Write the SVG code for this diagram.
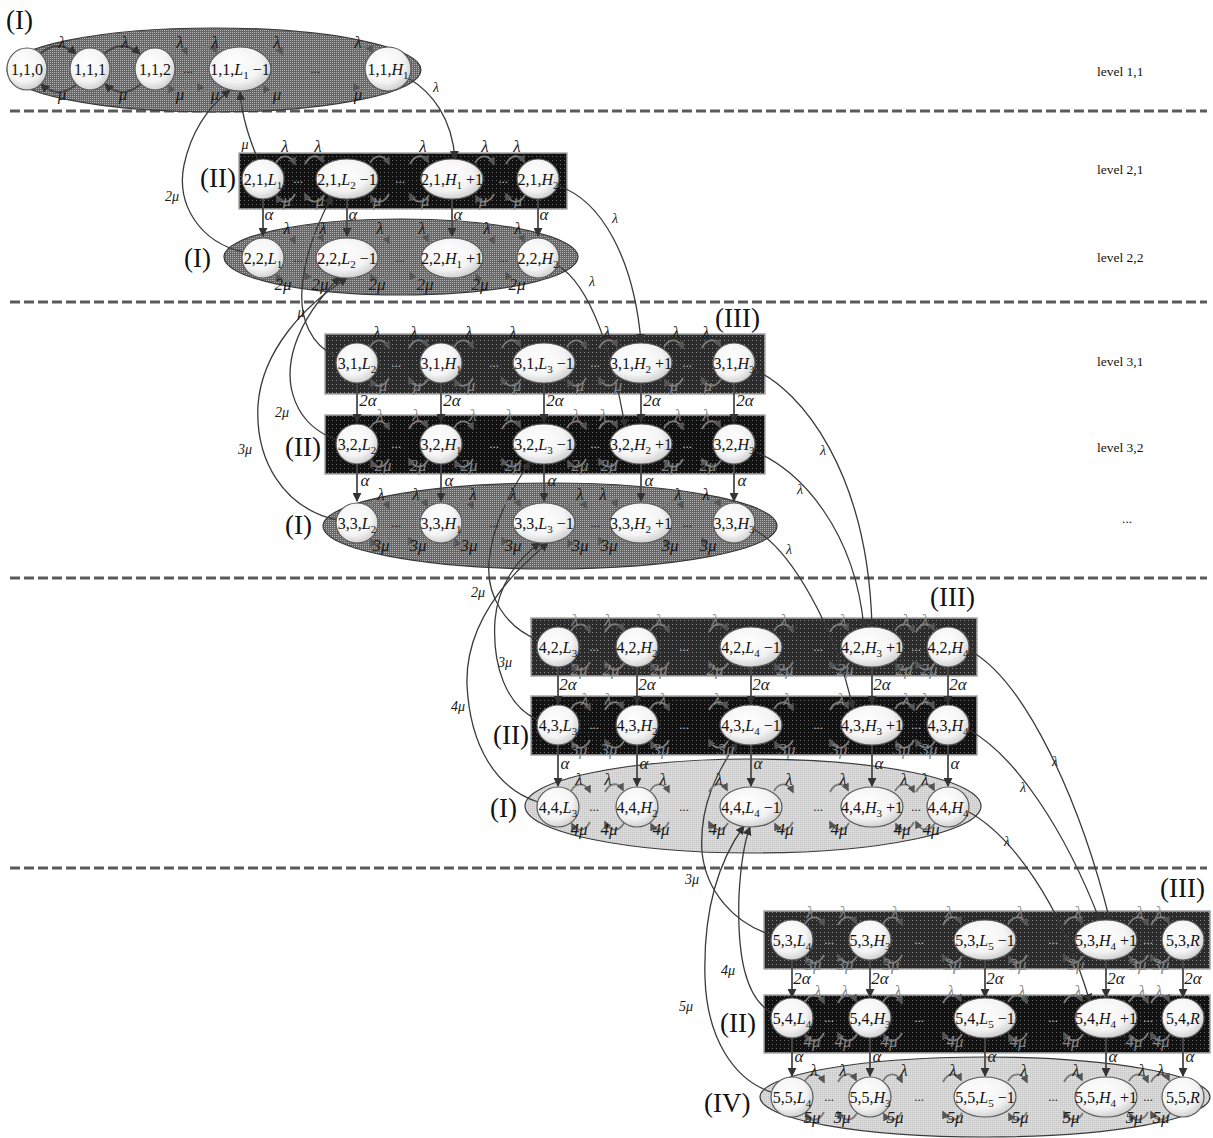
<svg xmlns="http://www.w3.org/2000/svg" width="1213" height="1138" viewBox="0 0 1213 1138">
<style>
.n{fill:url(#ng);stroke:#5a5a5a;stroke-width:1.2}
.t{font-family:"Liberation Serif","Times New Roman",serif;font-size:16px;text-anchor:middle;fill:#111}
.i{font-style:italic}
.s{font-size:11px}
.g{font-family:"Liberation Serif","Times New Roman",serif;font-size:17px;font-style:italic;text-anchor:middle;fill:#1a1a1a}
.gw{font-family:"Liberation Serif","Times New Roman",serif;font-size:17px;font-style:italic;text-anchor:middle;fill:#858585}
.cl{font-family:"Liberation Serif","Times New Roman",serif;font-size:14px;font-style:italic;text-anchor:middle;fill:#1a1a1a}
.r{font-family:"Liberation Serif","Times New Roman",serif;font-size:27px;fill:#111}
.lv{font-family:"Liberation Serif","Times New Roman",serif;font-size:13.5px;fill:#111}
.d{font-family:"Liberation Serif","Times New Roman",serif;font-size:13px;text-anchor:middle;fill:#222}
.dw{font-family:"Liberation Serif","Times New Roman",serif;font-size:13px;text-anchor:middle;fill:#bbb}
.c{fill:none;stroke:#3a3a3a;stroke-width:1.3;marker-end:url(#ah)}
.a{stroke:#4a4a4a;stroke-width:1.8;marker-end:url(#ah)}
.k{fill:none;stroke:#444;stroke-width:1.8;marker-end:url(#ah)}
.h{fill:none;stroke:#7a7a7a;stroke-width:1.8;marker-end:url(#hh)}
.dash{stroke:#5a5a5a;stroke-width:3;stroke-dasharray:10 4;fill:none}
.cont{stroke:#3a3a3a;stroke-width:1.2}
.box{stroke:#a8a8a8;stroke-width:1.5}
</style>
<defs>
<radialGradient id="ng" cx="0.42" cy="0.38" r="0.7"><stop offset="0" stop-color="#ffffff"/><stop offset="0.6" stop-color="#f4f4f4"/><stop offset="1" stop-color="#c4c4c4"/></radialGradient>
<pattern id="pd" width="2" height="2" patternUnits="userSpaceOnUse"><rect width="2" height="2" fill="#666"/><rect width="1" height="1" fill="#b4b4b4"/></pattern>
<pattern id="pb1" width="4" height="4" patternUnits="userSpaceOnUse"><rect width="4" height="4" fill="#2c2c2c"/><rect width="1" height="1" fill="#8a8a8a"/></pattern>
<pattern id="pb2" width="4" height="4" patternUnits="userSpaceOnUse"><rect width="4" height="4" fill="#121212"/><rect width="1" height="1" fill="#6a6a6a"/></pattern>
<pattern id="pl" width="2" height="2" patternUnits="userSpaceOnUse"><rect width="2" height="2" fill="#dadada"/><rect width="1" height="1" fill="#c2c2c2"/></pattern>
<marker id="ah" viewBox="0 0 10 10" refX="9" refY="5" markerWidth="9" markerHeight="9" markerUnits="userSpaceOnUse" orient="auto"><path d="M0 0L10 5L0 10z" fill="#333"/></marker>
<marker id="hh" viewBox="0 0 10 10" refX="8" refY="5" markerWidth="8" markerHeight="8" markerUnits="userSpaceOnUse" orient="auto"><path d="M0 0L10 5L0 10z" fill="#555"/></marker>
<g id="hR"><path class="h" d="M-8 -16C-3 -25 6 -25 11 -15"/><path class="h" d="M11 15C6 25 -3 25 -7 17"/></g>
<g id="hL"><path class="h" d="M-11 -15C-6 -25 3 -25 7 -17"/><path class="h" d="M8 16C3 25 -6 25 -11 15"/></g>
</defs>
<rect width="1213" height="1138" fill="#fff"/>

<g id="separators">
<line class="dash" x1="10" y1="111" x2="1207" y2="111"/>
<line class="dash" x1="10" y1="302" x2="1207" y2="302"/>
<line class="dash" x1="10" y1="578" x2="1207" y2="578"/>
<line class="dash" x1="10" y1="868" x2="1207" y2="868"/>
</g>

<g id="containers">
<ellipse class="cont" cx="214" cy="70" rx="207" ry="42" fill="url(#pd)"/>
<rect class="box" x="239" y="153" width="328" height="56" fill="url(#pb2)"/>
<ellipse class="cont" cx="401" cy="257" rx="177" ry="38" fill="url(#pd)"/>
<rect class="box" x="325" y="334" width="440" height="60" fill="url(#pb1)"/>
<rect class="box" x="325" y="415" width="440" height="59" fill="url(#pb2)"/>
<ellipse class="cont" cx="550" cy="526" rx="227" ry="43" fill="url(#pd)"/>
<rect class="box" x="531" y="618" width="446" height="58" fill="url(#pb1)"/>
<rect class="box" x="531" y="696" width="446" height="59" fill="url(#pb2)"/>
<ellipse class="cont" cx="753" cy="806" rx="228" ry="47" fill="url(#pl)"/>
<rect class="box" x="764" y="911" width="446" height="58" fill="url(#pb1)"/>
<rect class="box" x="764" y="995" width="446" height="58" fill="url(#pb2)"/>
<ellipse class="cont" cx="985" cy="1097" rx="225" ry="40" fill="url(#pl)"/>
</g>

<g id="connectors">
<path class="c" d="M258 160C250 140 242 118 240 92"/>
<path class="c" d="M243 252C200 242 176 205 184 165C192 128 212 104 230 90"/>
<path class="c" d="M408 78C432 92 452 118 455 159"/>
<path class="c" d="M558 186C602 200 634 260 641 342"/>
<path class="c" d="M557 265C592 285 614 360 625 427"/>
<path class="c" d="M337 357C310 345 300 318 302 290C304 255 318 222 332 196"/>
<path class="c" d="M337 440C295 425 282 385 295 345C305 315 325 292 340 277"/>
<path class="c" d="M337 520C283 508 255 460 258 405C262 350 305 305 347 278"/>
<path class="c" d="M755 370C800 390 868 470 872 627"/>
<path class="c" d="M756 452C800 470 855 530 864 628"/>
<path class="c" d="M755 530C790 550 835 625 853 709"/>
<path class="c" d="M538 640C505 627 486 595 489 562C492 525 512 488 530 462"/>
<path class="c" d="M538 720C506 706 492 665 495 620C498 585 518 558 540 543"/>
<path class="c" d="M538 802C495 788 470 745 467 685C465 625 505 578 548 543"/>
<path class="c" d="M969 650C1025 680 1080 800 1110 921"/>
<path class="c" d="M969 730C1015 755 1065 830 1100 921"/>
<path class="c" d="M969 812C1010 835 1060 900 1090 1002"/>
<path class="c" d="M772 935C735 924 706 892 702 852C699 805 718 770 737 743"/>
<path class="c" d="M772 1013C745 998 737 955 739 895C741 860 745 840 750 827"/>
<path class="c" d="M771 1092C735 1080 707 1040 705 978C703 910 718 862 744 826"/>
<path class="k" d="M40 54Q58 38 76 54"/>
<path class="k" d="M77 84Q58 100 41 84"/>
<path class="k" d="M104 54Q122 38 140 54"/>
<path class="k" d="M141 84Q122 100 105 84"/>
<line class="a" x1="263" y1="199" x2="263" y2="236"/><line class="a" x1="347" y1="199" x2="347" y2="236"/><line class="a" x1="452" y1="199" x2="452" y2="236"/><line class="a" x1="538" y1="199" x2="538" y2="236"/>
<line class="a" x1="357" y1="383" x2="357" y2="422"/><line class="a" x1="441" y1="383" x2="441" y2="422"/><line class="a" x1="544" y1="383" x2="544" y2="422"/><line class="a" x1="641" y1="383" x2="641" y2="422"/><line class="a" x1="734" y1="383" x2="734" y2="422"/>
<line class="a" x1="357" y1="464" x2="357" y2="501"/><line class="a" x1="441" y1="464" x2="441" y2="501"/><line class="a" x1="544" y1="464" x2="544" y2="501"/><line class="a" x1="641" y1="464" x2="641" y2="501"/><line class="a" x1="734" y1="464" x2="734" y2="501"/>
<line class="a" x1="558" y1="667" x2="558" y2="704"/><line class="a" x1="637" y1="667" x2="637" y2="704"/><line class="a" x1="751" y1="667" x2="751" y2="704"/><line class="a" x1="872" y1="667" x2="872" y2="704"/><line class="a" x1="948" y1="667" x2="948" y2="704"/>
<line class="a" x1="558" y1="745" x2="558" y2="786"/><line class="a" x1="637" y1="745" x2="637" y2="786"/><line class="a" x1="751" y1="745" x2="751" y2="786"/><line class="a" x1="872" y1="745" x2="872" y2="786"/><line class="a" x1="948" y1="745" x2="948" y2="786"/>
<line class="a" x1="792" y1="960" x2="792" y2="997"/><line class="a" x1="870" y1="960" x2="870" y2="997"/><line class="a" x1="985" y1="960" x2="985" y2="997"/><line class="a" x1="1106" y1="960" x2="1106" y2="997"/><line class="a" x1="1183" y1="960" x2="1183" y2="997"/>
<line class="a" x1="792" y1="1038" x2="792" y2="1076"/><line class="a" x1="870" y1="1038" x2="870" y2="1076"/><line class="a" x1="985" y1="1038" x2="985" y2="1076"/><line class="a" x1="1106" y1="1038" x2="1106" y2="1076"/><line class="a" x1="1183" y1="1038" x2="1183" y2="1076"/>
<use href="#hR" x="176" y="69"/><use href="#hL" x="209" y="69"/><use href="#hR" x="271" y="69"/><use href="#hL" x="365" y="69"/>
<use href="#hR" x="284" y="179"/><use href="#hR" x="378" y="179"/><use href="#hR" x="483" y="179"/><use href="#hL" x="316" y="179"/><use href="#hL" x="421" y="179"/><use href="#hL" x="517" y="179"/>
<use href="#hR" x="284" y="258"/><use href="#hR" x="378" y="258"/><use href="#hR" x="483" y="258"/><use href="#hL" x="316" y="258"/><use href="#hL" x="421" y="258"/><use href="#hL" x="517" y="258"/>
<use href="#hR" x="378" y="363"/><use href="#hR" x="462" y="363"/><use href="#hR" x="575" y="363"/><use href="#hR" x="672" y="363"/><use href="#hL" x="420" y="363"/><use href="#hL" x="513" y="363"/><use href="#hL" x="610" y="363"/><use href="#hL" x="713" y="363"/>
<use href="#hR" x="378" y="444"/><use href="#hR" x="462" y="444"/><use href="#hR" x="575" y="444"/><use href="#hR" x="672" y="444"/><use href="#hL" x="420" y="444"/><use href="#hL" x="513" y="444"/><use href="#hL" x="610" y="444"/><use href="#hL" x="713" y="444"/>
<use href="#hR" x="378" y="523"/><use href="#hR" x="462" y="523"/><use href="#hR" x="575" y="523"/><use href="#hR" x="672" y="523"/><use href="#hL" x="420" y="523"/><use href="#hL" x="513" y="523"/><use href="#hL" x="610" y="523"/><use href="#hL" x="713" y="523"/>
<use href="#hR" x="579" y="647"/><use href="#hR" x="658" y="647"/><use href="#hR" x="782" y="647"/><use href="#hR" x="903" y="647"/><use href="#hL" x="616" y="647"/><use href="#hL" x="720" y="647"/><use href="#hL" x="841" y="647"/><use href="#hL" x="927" y="647"/>
<use href="#hR" x="579" y="725"/><use href="#hR" x="658" y="725"/><use href="#hR" x="782" y="725"/><use href="#hR" x="903" y="725"/><use href="#hL" x="616" y="725"/><use href="#hL" x="720" y="725"/><use href="#hL" x="841" y="725"/><use href="#hL" x="927" y="725"/>
<use href="#hR" x="579" y="807"/><use href="#hR" x="658" y="807"/><use href="#hR" x="782" y="807"/><use href="#hR" x="903" y="807"/><use href="#hL" x="616" y="807"/><use href="#hL" x="720" y="807"/><use href="#hL" x="841" y="807"/><use href="#hL" x="927" y="807"/>
<use href="#hR" x="813" y="940"/><use href="#hR" x="891" y="940"/><use href="#hR" x="1016" y="940"/><use href="#hR" x="1137" y="940"/><use href="#hL" x="849" y="940"/><use href="#hL" x="954" y="940"/><use href="#hL" x="1075" y="940"/><use href="#hL" x="1162" y="940"/>
<use href="#hR" x="813" y="1018"/><use href="#hR" x="891" y="1018"/><use href="#hR" x="1016" y="1018"/><use href="#hR" x="1137" y="1018"/><use href="#hL" x="849" y="1018"/><use href="#hL" x="954" y="1018"/><use href="#hL" x="1075" y="1018"/><use href="#hL" x="1162" y="1018"/>
<use href="#hR" x="813" y="1097"/><use href="#hR" x="891" y="1097"/><use href="#hR" x="1016" y="1097"/><use href="#hR" x="1137" y="1097"/><use href="#hL" x="849" y="1097"/><use href="#hL" x="954" y="1097"/><use href="#hL" x="1075" y="1097"/><use href="#hL" x="1162" y="1097"/>
</g>

<g id="nodes">
<g id="n1-1-0"><ellipse class="n" cx="27" cy="69" rx="20" ry="21"/><text class="t" x="27" y="75">1,1,0</text></g>
<g id="n1-1-1"><ellipse class="n" cx="90" cy="69" rx="20" ry="21"/><text class="t" x="90" y="75">1,1,1</text></g>
<g id="n1-1-2"><ellipse class="n" cx="155" cy="69" rx="20" ry="21"/><text class="t" x="155" y="75">1,1,2</text></g>
<g id="n1-1-L1m1"><ellipse class="n" cx="240" cy="69" rx="31" ry="22"/><text class="t" x="240" y="75">1,1,<tspan class="i">L</tspan><tspan class="s" dy="4">1</tspan><tspan dy="-4"> −1</tspan></text></g>
<g id="n1-1-H1"><ellipse class="n" cx="388" cy="69" rx="23" ry="22"/><text class="t" x="388" y="75">1,1,<tspan class="i">H</tspan><tspan class="s" dy="4">1</tspan></text></g>

<g id="n2-1-L1"><ellipse class="n" cx="263" cy="179" rx="21" ry="20"/><text class="t" x="263" y="185">2,1,<tspan class="i">L</tspan><tspan class="s" dy="4">1</tspan></text></g>
<g id="n2-1-L2m1"><ellipse class="n" cx="347" cy="179" rx="31" ry="20"/><text class="t" x="347" y="185">2,1,<tspan class="i">L</tspan><tspan class="s" dy="4">2</tspan><tspan dy="-4"> −1</tspan></text></g>
<g id="n2-1-H1p1"><ellipse class="n" cx="452" cy="179" rx="31" ry="20"/><text class="t" x="452" y="185">2,1,<tspan class="i">H</tspan><tspan class="s" dy="4">1</tspan><tspan dy="-4"> +1</tspan></text></g>
<g id="n2-1-H2"><ellipse class="n" cx="538" cy="179" rx="21" ry="20"/><text class="t" x="538" y="185">2,1,<tspan class="i">H</tspan><tspan class="s" dy="4">2</tspan></text></g>
<g id="n2-2-L1"><ellipse class="n" cx="263" cy="258" rx="21" ry="20"/><text class="t" x="263" y="264">2,2,<tspan class="i">L</tspan><tspan class="s" dy="4">1</tspan></text></g>
<g id="n2-2-L2m1"><ellipse class="n" cx="347" cy="258" rx="31" ry="20"/><text class="t" x="347" y="264">2,2,<tspan class="i">L</tspan><tspan class="s" dy="4">2</tspan><tspan dy="-4"> −1</tspan></text></g>
<g id="n2-2-H1p1"><ellipse class="n" cx="452" cy="258" rx="31" ry="20"/><text class="t" x="452" y="264">2,2,<tspan class="i">H</tspan><tspan class="s" dy="4">1</tspan><tspan dy="-4"> +1</tspan></text></g>
<g id="n2-2-H2"><ellipse class="n" cx="538" cy="258" rx="21" ry="20"/><text class="t" x="538" y="264">2,2,<tspan class="i">H</tspan><tspan class="s" dy="4">2</tspan></text></g>

<g id="n3-1-L2"><ellipse class="n" cx="357" cy="363" rx="21" ry="20"/><text class="t" x="357" y="369">3,1,<tspan class="i">L</tspan><tspan class="s" dy="4">2</tspan></text></g>
<g id="n3-1-H1"><ellipse class="n" cx="441" cy="363" rx="21" ry="20"/><text class="t" x="441" y="369">3,1,<tspan class="i">H</tspan><tspan class="s" dy="4">1</tspan></text></g>
<g id="n3-1-L3m1"><ellipse class="n" cx="544" cy="363" rx="31" ry="20"/><text class="t" x="544" y="369">3,1,<tspan class="i">L</tspan><tspan class="s" dy="4">3</tspan><tspan dy="-4"> −1</tspan></text></g>
<g id="n3-1-H2p1"><ellipse class="n" cx="641" cy="363" rx="31" ry="20"/><text class="t" x="641" y="369">3,1,<tspan class="i">H</tspan><tspan class="s" dy="4">2</tspan><tspan dy="-4"> +1</tspan></text></g>
<g id="n3-1-H3"><ellipse class="n" cx="734" cy="363" rx="21" ry="20"/><text class="t" x="734" y="369">3,1,<tspan class="i">H</tspan><tspan class="s" dy="4">3</tspan></text></g>
<g id="n3-2-L2"><ellipse class="n" cx="357" cy="444" rx="21" ry="20"/><text class="t" x="357" y="450">3,2,<tspan class="i">L</tspan><tspan class="s" dy="4">2</tspan></text></g>
<g id="n3-2-H1"><ellipse class="n" cx="441" cy="444" rx="21" ry="20"/><text class="t" x="441" y="450">3,2,<tspan class="i">H</tspan><tspan class="s" dy="4">1</tspan></text></g>
<g id="n3-2-L3m1"><ellipse class="n" cx="544" cy="444" rx="31" ry="20"/><text class="t" x="544" y="450">3,2,<tspan class="i">L</tspan><tspan class="s" dy="4">3</tspan><tspan dy="-4"> −1</tspan></text></g>
<g id="n3-2-H2p1"><ellipse class="n" cx="641" cy="444" rx="31" ry="20"/><text class="t" x="641" y="450">3,2,<tspan class="i">H</tspan><tspan class="s" dy="4">2</tspan><tspan dy="-4"> +1</tspan></text></g>
<g id="n3-2-H3"><ellipse class="n" cx="734" cy="444" rx="21" ry="20"/><text class="t" x="734" y="450">3,2,<tspan class="i">H</tspan><tspan class="s" dy="4">3</tspan></text></g>
<g id="n3-3-L2"><ellipse class="n" cx="357" cy="523" rx="21" ry="20"/><text class="t" x="357" y="529">3,3,<tspan class="i">L</tspan><tspan class="s" dy="4">2</tspan></text></g>
<g id="n3-3-H1"><ellipse class="n" cx="441" cy="523" rx="21" ry="20"/><text class="t" x="441" y="529">3,3,<tspan class="i">H</tspan><tspan class="s" dy="4">1</tspan></text></g>
<g id="n3-3-L3m1"><ellipse class="n" cx="544" cy="523" rx="31" ry="20"/><text class="t" x="544" y="529">3,3,<tspan class="i">L</tspan><tspan class="s" dy="4">3</tspan><tspan dy="-4"> −1</tspan></text></g>
<g id="n3-3-H2p1"><ellipse class="n" cx="641" cy="523" rx="31" ry="20"/><text class="t" x="641" y="529">3,3,<tspan class="i">H</tspan><tspan class="s" dy="4">2</tspan><tspan dy="-4"> +1</tspan></text></g>
<g id="n3-3-H3"><ellipse class="n" cx="734" cy="523" rx="21" ry="20"/><text class="t" x="734" y="529">3,3,<tspan class="i">H</tspan><tspan class="s" dy="4">3</tspan></text></g>

<g id="n4-2-L3"><ellipse class="n" cx="558" cy="647" rx="21" ry="20"/><text class="t" x="558" y="653">4,2,<tspan class="i">L</tspan><tspan class="s" dy="4">3</tspan></text></g>
<g id="n4-2-H2"><ellipse class="n" cx="637" cy="647" rx="21" ry="20"/><text class="t" x="637" y="653">4,2,<tspan class="i">H</tspan><tspan class="s" dy="4">2</tspan></text></g>
<g id="n4-2-L4m1"><ellipse class="n" cx="751" cy="647" rx="31" ry="20"/><text class="t" x="751" y="653">4,2,<tspan class="i">L</tspan><tspan class="s" dy="4">4</tspan><tspan dy="-4"> −1</tspan></text></g>
<g id="n4-2-H3p1"><ellipse class="n" cx="872" cy="647" rx="31" ry="20"/><text class="t" x="872" y="653">4,2,<tspan class="i">H</tspan><tspan class="s" dy="4">3</tspan><tspan dy="-4"> +1</tspan></text></g>
<g id="n4-2-H4"><ellipse class="n" cx="948" cy="647" rx="21" ry="20"/><text class="t" x="948" y="653">4,2,<tspan class="i">H</tspan><tspan class="s" dy="4">4</tspan></text></g>
<g id="n4-3-L3"><ellipse class="n" cx="558" cy="725" rx="21" ry="20"/><text class="t" x="558" y="731">4,3,<tspan class="i">L</tspan><tspan class="s" dy="4">3</tspan></text></g>
<g id="n4-3-H2"><ellipse class="n" cx="637" cy="725" rx="21" ry="20"/><text class="t" x="637" y="731">4,3,<tspan class="i">H</tspan><tspan class="s" dy="4">2</tspan></text></g>
<g id="n4-3-L4m1"><ellipse class="n" cx="751" cy="725" rx="31" ry="20"/><text class="t" x="751" y="731">4,3,<tspan class="i">L</tspan><tspan class="s" dy="4">4</tspan><tspan dy="-4"> −1</tspan></text></g>
<g id="n4-3-H3p1"><ellipse class="n" cx="872" cy="725" rx="31" ry="20"/><text class="t" x="872" y="731">4,3,<tspan class="i">H</tspan><tspan class="s" dy="4">3</tspan><tspan dy="-4"> +1</tspan></text></g>
<g id="n4-3-H4"><ellipse class="n" cx="948" cy="725" rx="21" ry="20"/><text class="t" x="948" y="731">4,3,<tspan class="i">H</tspan><tspan class="s" dy="4">4</tspan></text></g>
<g id="n4-4-L3"><ellipse class="n" cx="558" cy="807" rx="21" ry="20"/><text class="t" x="558" y="813">4,4,<tspan class="i">L</tspan><tspan class="s" dy="4">3</tspan></text></g>
<g id="n4-4-H2"><ellipse class="n" cx="637" cy="807" rx="21" ry="20"/><text class="t" x="637" y="813">4,4,<tspan class="i">H</tspan><tspan class="s" dy="4">2</tspan></text></g>
<g id="n4-4-L4m1"><ellipse class="n" cx="751" cy="807" rx="31" ry="20"/><text class="t" x="751" y="813">4,4,<tspan class="i">L</tspan><tspan class="s" dy="4">4</tspan><tspan dy="-4"> −1</tspan></text></g>
<g id="n4-4-H3p1"><ellipse class="n" cx="872" cy="807" rx="31" ry="20"/><text class="t" x="872" y="813">4,4,<tspan class="i">H</tspan><tspan class="s" dy="4">3</tspan><tspan dy="-4"> +1</tspan></text></g>
<g id="n4-4-H4"><ellipse class="n" cx="948" cy="807" rx="21" ry="20"/><text class="t" x="948" y="813">4,4,<tspan class="i">H</tspan><tspan class="s" dy="4">4</tspan></text></g>

<g id="n5-3-L4"><ellipse class="n" cx="792" cy="940" rx="21" ry="20"/><text class="t" x="792" y="946">5,3,<tspan class="i">L</tspan><tspan class="s" dy="4">4</tspan></text></g>
<g id="n5-3-H3"><ellipse class="n" cx="870" cy="940" rx="21" ry="20"/><text class="t" x="870" y="946">5,3,<tspan class="i">H</tspan><tspan class="s" dy="4">3</tspan></text></g>
<g id="n5-3-L5m1"><ellipse class="n" cx="985" cy="940" rx="31" ry="20"/><text class="t" x="985" y="946">5,3,<tspan class="i">L</tspan><tspan class="s" dy="4">5</tspan><tspan dy="-4"> −1</tspan></text></g>
<g id="n5-3-H4p1"><ellipse class="n" cx="1106" cy="940" rx="31" ry="20"/><text class="t" x="1106" y="946">5,3,<tspan class="i">H</tspan><tspan class="s" dy="4">4</tspan><tspan dy="-4"> +1</tspan></text></g>
<g id="n5-3-R"><ellipse class="n" cx="1183" cy="940" rx="21" ry="20"/><text class="t" x="1183" y="946">5,3,<tspan class="i">R</tspan></text></g>
<g id="n5-4-L4"><ellipse class="n" cx="792" cy="1018" rx="21" ry="20"/><text class="t" x="792" y="1024">5,4,<tspan class="i">L</tspan><tspan class="s" dy="4">4</tspan></text></g>
<g id="n5-4-H3"><ellipse class="n" cx="870" cy="1018" rx="21" ry="20"/><text class="t" x="870" y="1024">5,4,<tspan class="i">H</tspan><tspan class="s" dy="4">3</tspan></text></g>
<g id="n5-4-L5m1"><ellipse class="n" cx="985" cy="1018" rx="31" ry="20"/><text class="t" x="985" y="1024">5,4,<tspan class="i">L</tspan><tspan class="s" dy="4">5</tspan><tspan dy="-4"> −1</tspan></text></g>
<g id="n5-4-H4p1"><ellipse class="n" cx="1106" cy="1018" rx="31" ry="20"/><text class="t" x="1106" y="1024">5,4,<tspan class="i">H</tspan><tspan class="s" dy="4">4</tspan><tspan dy="-4"> +1</tspan></text></g>
<g id="n5-4-R"><ellipse class="n" cx="1183" cy="1018" rx="21" ry="20"/><text class="t" x="1183" y="1024">5,4,<tspan class="i">R</tspan></text></g>
<g id="n5-5-L4"><ellipse class="n" cx="792" cy="1097" rx="21" ry="20"/><text class="t" x="792" y="1103">5,5,<tspan class="i">L</tspan><tspan class="s" dy="4">4</tspan></text></g>
<g id="n5-5-H3"><ellipse class="n" cx="870" cy="1097" rx="21" ry="20"/><text class="t" x="870" y="1103">5,5,<tspan class="i">H</tspan><tspan class="s" dy="4">3</tspan></text></g>
<g id="n5-5-L5m1"><ellipse class="n" cx="985" cy="1097" rx="31" ry="20"/><text class="t" x="985" y="1103">5,5,<tspan class="i">L</tspan><tspan class="s" dy="4">5</tspan><tspan dy="-4"> −1</tspan></text></g>
<g id="n5-5-H4p1"><ellipse class="n" cx="1106" cy="1097" rx="31" ry="20"/><text class="t" x="1106" y="1103">5,5,<tspan class="i">H</tspan><tspan class="s" dy="4">4</tspan><tspan dy="-4"> +1</tspan></text></g>
<g id="n5-5-R"><ellipse class="n" cx="1183" cy="1097" rx="21" ry="20"/><text class="t" x="1183" y="1103">5,5,<tspan class="i">R</tspan></text></g>
</g>

<g id="ellipses-dots">
<text class="d" x="188" y="73">...</text><text class="d" x="315" y="73">...</text>
<text class="dw" x="298" y="183">...</text><text class="dw" x="400" y="183">...</text><text class="dw" x="503" y="183">...</text>
<text class="d" x="298" y="262">...</text><text class="d" x="400" y="262">...</text><text class="d" x="503" y="262">...</text>
<text class="dw" x="396" y="367">...</text><text class="dw" x="494" y="367">...</text><text class="dw" x="595" y="367">...</text><text class="dw" x="687" y="367">...</text>
<text class="dw" x="396" y="448">...</text><text class="dw" x="494" y="448">...</text><text class="dw" x="595" y="448">...</text><text class="dw" x="687" y="448">...</text>
<text class="d" x="396" y="527">...</text><text class="d" x="494" y="527">...</text><text class="d" x="595" y="527">...</text><text class="d" x="687" y="527">...</text>
<text class="dw" x="594" y="651">...</text><text class="dw" x="684" y="651">...</text><text class="dw" x="818" y="651">...</text><text class="dw" x="916" y="651">...</text>
<text class="dw" x="594" y="729">...</text><text class="dw" x="684" y="729">...</text><text class="dw" x="818" y="729">...</text><text class="dw" x="916" y="729">...</text>
<text class="d" x="594" y="811">...</text><text class="d" x="684" y="811">...</text><text class="d" x="818" y="811">...</text><text class="d" x="916" y="811">...</text>
<text class="dw" x="829" y="944">...</text><text class="dw" x="919" y="944">...</text><text class="dw" x="1053" y="944">...</text><text class="dw" x="1148" y="944">...</text>
<text class="dw" x="829" y="1022">...</text><text class="dw" x="919" y="1022">...</text><text class="dw" x="1053" y="1022">...</text><text class="dw" x="1148" y="1022">...</text>
<text class="d" x="829" y="1101">...</text><text class="d" x="919" y="1101">...</text><text class="d" x="1053" y="1101">...</text><text class="d" x="1148" y="1101">...</text>
</g>

<g id="rate-labels">
<text class="g" x="62" y="48">λ</text><text class="g" x="125" y="48">λ</text><text class="g" x="180" y="48">λ</text><text class="g" x="215" y="48">λ</text><text class="g" x="277" y="48">λ</text><text class="g" x="358" y="48">λ</text>
<text class="g" x="62" y="100">μ</text><text class="g" x="123" y="100">μ</text><text class="g" x="180" y="100">μ</text><text class="g" x="215" y="100">μ</text><text class="g" x="277" y="100">μ</text><text class="g" x="358" y="100">μ</text>

<text class="g" x="285" y="152">λ</text><text class="g" x="318" y="152">λ</text><text class="g" x="423" y="152">λ</text><text class="g" x="485" y="152">λ</text><text class="g" x="517" y="152">λ</text>
<text class="gw" x="287" y="206">μ</text><text class="gw" x="320" y="206">μ</text><text class="gw" x="377" y="206">μ</text><text class="gw" x="425" y="206">μ</text><text class="gw" x="483" y="206">μ</text><text class="gw" x="518" y="206">μ</text>
<text class="g" x="269" y="220">α</text><text class="g" x="353" y="220">α</text><text class="g" x="458" y="220">α</text><text class="g" x="544" y="220">α</text>
<text class="g" x="287" y="234">λ</text><text class="g" x="323" y="234">λ</text><text class="g" x="380" y="234">λ</text><text class="g" x="422" y="234">λ</text><text class="g" x="487" y="234">λ</text><text class="g" x="518" y="234">λ</text>
<text class="g" x="283" y="290">2μ</text><text class="g" x="320" y="290">2μ</text><text class="g" x="377" y="290">2μ</text><text class="g" x="425" y="290">2μ</text><text class="g" x="480" y="290">2μ</text><text class="g" x="517" y="290">2μ</text>

<text class="g" x="377" y="338">λ</text><text class="g" x="414" y="338">λ</text><text class="g" x="469" y="338">λ</text><text class="g" x="513" y="338">λ</text><text class="g" x="607" y="338">λ</text><text class="g" x="676" y="338">λ</text><text class="g" x="706" y="338">λ</text>
<text class="gw" x="383" y="391">μ</text><text class="gw" x="417" y="391">μ</text><text class="gw" x="471" y="391">μ</text><text class="gw" x="517" y="391">μ</text><text class="gw" x="580" y="391">μ</text><text class="gw" x="618" y="391">μ</text><text class="gw" x="674" y="391">μ</text><text class="gw" x="708" y="391">μ</text>
<text class="g" x="368" y="406">2α</text><text class="g" x="452" y="406">2α</text><text class="g" x="555" y="406">2α</text><text class="g" x="652" y="406">2α</text><text class="g" x="745" y="406">2α</text>
<text class="gw" x="380" y="421">λ</text><text class="gw" x="416" y="421">λ</text><text class="gw" x="473" y="421">λ</text><text class="gw" x="509" y="421">λ</text><text class="gw" x="576" y="421">λ</text><text class="gw" x="603" y="421">λ</text><text class="gw" x="678" y="421">λ</text><text class="gw" x="706" y="421">λ</text>
<text class="gw" x="383" y="471">2μ</text><text class="gw" x="418" y="471">2μ</text><text class="gw" x="469" y="471">2μ</text><text class="gw" x="513" y="471">2μ</text><text class="gw" x="580" y="471">2μ</text><text class="gw" x="609" y="471">2μ</text><text class="gw" x="670" y="471">2μ</text><text class="gw" x="708" y="471">2μ</text>
<text class="g" x="365" y="486">α</text><text class="g" x="449" y="486">α</text><text class="g" x="552" y="486">α</text><text class="g" x="649" y="486">α</text><text class="g" x="742" y="486">α</text>
<text class="g" x="381" y="500">λ</text><text class="g" x="416" y="500">λ</text><text class="g" x="473" y="500">λ</text><text class="g" x="513" y="500">λ</text><text class="g" x="580" y="500">λ</text><text class="g" x="603" y="500">λ</text><text class="g" x="678" y="500">λ</text><text class="g" x="706" y="500">λ</text>
<text class="g" x="381" y="551">3μ</text><text class="g" x="418" y="551">3μ</text><text class="g" x="469" y="551">3μ</text><text class="g" x="513" y="551">3μ</text><text class="g" x="580" y="551">3μ</text><text class="g" x="609" y="551">3μ</text><text class="g" x="670" y="551">3μ</text><text class="g" x="708" y="551">3μ</text>

<text class="gw" x="575" y="626">λ</text><text class="gw" x="608" y="626">λ</text><text class="gw" x="659" y="626">λ</text><text class="gw" x="715" y="626">λ</text><text class="gw" x="784" y="626">λ</text><text class="gw" x="843" y="626">λ</text><text class="gw" x="906" y="626">λ</text><text class="gw" x="925" y="626">λ</text>
<text class="gw" x="579" y="675">2μ</text><text class="gw" x="611" y="675">2μ</text><text class="gw" x="659" y="675">2μ</text><text class="gw" x="715" y="675">2μ</text><text class="gw" x="785" y="675">2μ</text><text class="gw" x="845" y="675">2μ</text><text class="gw" x="904" y="675">2μ</text><text class="gw" x="929" y="675">2μ</text>
<text class="g" x="568" y="690">2α</text><text class="g" x="647" y="690">2α</text><text class="g" x="761" y="690">2α</text><text class="g" x="882" y="690">2α</text><text class="g" x="958" y="690">2α</text>
<text class="gw" x="585" y="705">λ</text><text class="gw" x="608" y="705">λ</text><text class="gw" x="663" y="705">λ</text><text class="gw" x="717" y="705">λ</text><text class="gw" x="787" y="705">λ</text><text class="gw" x="841" y="705">λ</text><text class="gw" x="906" y="705">λ</text><text class="gw" x="925" y="705">λ</text>
<text class="gw" x="579" y="755">3μ</text><text class="gw" x="609" y="755">3μ</text><text class="gw" x="661" y="755">3μ</text><text class="gw" x="726" y="755">3μ</text><text class="gw" x="787" y="755">3μ</text><text class="gw" x="839" y="755">3μ</text><text class="gw" x="902" y="755">3μ</text><text class="gw" x="929" y="755">3μ</text>
<text class="g" x="565" y="769">α</text><text class="g" x="644" y="769">α</text><text class="g" x="758" y="769">α</text><text class="g" x="879" y="769">α</text><text class="g" x="955" y="769">α</text>
<text class="g" x="579" y="785">λ</text><text class="g" x="608" y="785">λ</text><text class="g" x="663" y="785">λ</text><text class="g" x="719" y="785">λ</text><text class="g" x="789" y="785">λ</text><text class="g" x="843" y="785">λ</text><text class="g" x="904" y="785">λ</text><text class="g" x="925" y="785">λ</text>
<text class="g" x="579" y="835">4μ</text><text class="g" x="609" y="835">4μ</text><text class="g" x="661" y="835">4μ</text><text class="g" x="717" y="835">4μ</text><text class="g" x="785" y="835">4μ</text><text class="g" x="839" y="835">4μ</text><text class="g" x="902" y="835">4μ</text><text class="g" x="931" y="835">4μ</text>

<text class="gw" x="810" y="918">λ</text><text class="gw" x="843" y="918">λ</text><text class="gw" x="895" y="918">λ</text><text class="gw" x="949" y="918">λ</text><text class="gw" x="1020" y="918">λ</text><text class="gw" x="1078" y="918">λ</text><text class="gw" x="1140" y="918">λ</text><text class="gw" x="1159" y="918">λ</text>
<text class="gw" x="813" y="970">3μ</text><text class="gw" x="845" y="970">3μ</text><text class="gw" x="891" y="970">3μ</text><text class="gw" x="953" y="970">3μ</text><text class="gw" x="1018" y="970">3μ</text><text class="gw" x="1076" y="970">3μ</text><text class="gw" x="1138" y="970">3μ</text><text class="gw" x="1161" y="970">3μ</text>
<text class="g" x="802" y="984">2α</text><text class="g" x="880" y="984">2α</text><text class="g" x="995" y="984">2α</text><text class="g" x="1116" y="984">2α</text><text class="g" x="1193" y="984">2α</text>
<text class="gw" x="818" y="997">λ</text><text class="gw" x="845" y="997">λ</text><text class="gw" x="898" y="997">λ</text><text class="gw" x="951" y="997">λ</text><text class="gw" x="1022" y="997">λ</text><text class="gw" x="1078" y="997">λ</text><text class="gw" x="1142" y="997">λ</text><text class="gw" x="1159" y="997">λ</text>
<text class="gw" x="812" y="1047">4μ</text><text class="gw" x="843" y="1047">4μ</text><text class="gw" x="889" y="1047">4μ</text><text class="gw" x="955" y="1047">4μ</text><text class="gw" x="1018" y="1047">4μ</text><text class="gw" x="1071" y="1047">4μ</text><text class="gw" x="1134" y="1047">4μ</text><text class="gw" x="1161" y="1047">4μ</text>
<text class="g" x="799" y="1062">α</text><text class="g" x="877" y="1062">α</text><text class="g" x="992" y="1062">α</text><text class="g" x="1113" y="1062">α</text><text class="g" x="1190" y="1062">α</text>
<text class="g" x="814" y="1076">λ</text><text class="g" x="843" y="1076">λ</text><text class="g" x="904" y="1076">λ</text><text class="g" x="953" y="1076">λ</text><text class="g" x="1024" y="1076">λ</text><text class="g" x="1076" y="1076">λ</text><text class="g" x="1142" y="1076">λ</text><text class="g" x="1161" y="1076">λ</text>
<text class="g" x="812" y="1123">5μ</text><text class="g" x="842" y="1123">5μ</text><text class="g" x="895" y="1123">5μ</text><text class="g" x="955" y="1123">5μ</text><text class="g" x="1020" y="1123">5μ</text><text class="g" x="1071" y="1123">5μ</text><text class="g" x="1134" y="1123">5μ</text><text class="g" x="1161" y="1123">5μ</text>
</g>

<g id="connector-labels">
<text class="cl" x="245" y="149">μ</text>
<text class="cl" x="172" y="201">2μ</text>
<text class="cl" x="436" y="92">λ</text>
<text class="cl" x="615" y="223">λ</text>
<text class="cl" x="592" y="286">λ</text>
<text class="cl" x="301" y="317">μ</text>
<text class="cl" x="282" y="417">2μ</text>
<text class="cl" x="245" y="454">3μ</text>
<text class="cl" x="823" y="455">λ</text>
<text class="cl" x="800" y="494">λ</text>
<text class="cl" x="789" y="554">λ</text>
<text class="cl" x="478" y="597">2μ</text>
<text class="cl" x="505" y="667">3μ</text>
<text class="cl" x="458" y="711">4μ</text>
<text class="cl" x="1055" y="766">λ</text>
<text class="cl" x="1023" y="792">λ</text>
<text class="cl" x="1007" y="846">λ</text>
<text class="cl" x="692" y="884">3μ</text>
<text class="cl" x="728" y="975">4μ</text>
<text class="cl" x="686" y="1011">5μ</text>
</g>

<g id="region-labels">
<text class="r" x="6" y="29">(I)</text>
<text class="r" x="200" y="187">(II)</text>
<text class="r" x="184" y="267">(I)</text>
<text class="r" x="715" y="327">(III)</text>
<text class="r" x="285" y="456">(II)</text>
<text class="r" x="285" y="534">(I)</text>
<text class="r" x="930" y="606">(III)</text>
<text class="r" x="493" y="744">(II)</text>
<text class="r" x="490" y="817">(I)</text>
<text class="r" x="1160" y="897">(III)</text>
<text class="r" x="720" y="1032">(II)</text>
<text class="r" x="704" y="1112">(IV)</text>
</g>

<g id="level-labels">
<text class="lv" x="1097" y="76">level 1,1</text>
<text class="lv" x="1097" y="174">level 2,1</text>
<text class="lv" x="1097" y="262">level 2,2</text>
<text class="lv" x="1097" y="366">level 3,1</text>
<text class="lv" x="1097" y="452">level 3,2</text>
<text class="lv" x="1122" y="523">...</text>
</g>
</svg>
